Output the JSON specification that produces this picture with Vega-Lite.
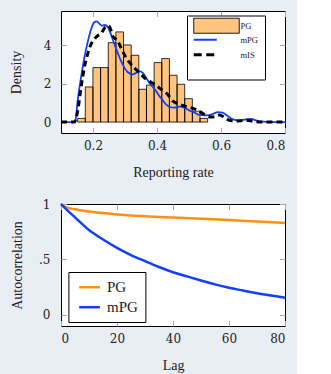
{
  "$schema": "https://vega.github.io/schema/vega-lite/v6.json",
  "background": "#e9edf4",
  "padding": {"left": 8, "top": 10, "right": 5, "bottom": 0},
  "spacing": 16,
  "resolve": {"scale": {"color": "independent"}, "legend": {"color": "independent"}},
  "config": {
    "view": {"stroke": "black", "strokeWidth": 1, "fill": "white"},
    "axis": {
      "domain": false, "grid": false, "tickColor": "#a8a8a8", "tickWidth": 1, "tickSize": -5.5,
      "labelFont": "DejaVu Serif", "labelFontSize": 12, "labelColor": "#222",
      "titleFont": "Liberation Serif", "titleFontSize": 14, "titleFontWeight": "normal", "titleColor": "#222"
    },
    "legend": {"labelFont": "Liberation Serif", "labelColor": "#222"}
  },
  "datasets": {
    "bars": [
      {"x0": 0.1520, "x1": 0.1759, "density": 0.19},
      {"x0": 0.1759, "x1": 0.1998, "density": 1.83},
      {"x0": 0.1998, "x1": 0.2237, "density": 2.84},
      {"x0": 0.2237, "x1": 0.2476, "density": 2.84},
      {"x0": 0.2476, "x1": 0.2715, "density": 4.14},
      {"x0": 0.2715, "x1": 0.2954, "density": 4.70},
      {"x0": 0.2954, "x1": 0.3193, "density": 4.02},
      {"x0": 0.3193, "x1": 0.3432, "density": 3.48},
      {"x0": 0.3432, "x1": 0.3671, "density": 1.71},
      {"x0": 0.3671, "x1": 0.3910, "density": 1.93},
      {"x0": 0.3910, "x1": 0.4149, "density": 3.10},
      {"x0": 0.4149, "x1": 0.4388, "density": 3.31},
      {"x0": 0.4388, "x1": 0.4627, "density": 2.44},
      {"x0": 0.4627, "x1": 0.4866, "density": 1.97},
      {"x0": 0.4866, "x1": 0.5105, "density": 1.22},
      {"x0": 0.5105, "x1": 0.5344, "density": 0.57},
      {"x0": 0.5344, "x1": 0.5583, "density": 0.19}
    ],
    "dens": [
      {"series": "mPG", "rate": 0.100, "density": 0},
      {"series": "mPG", "rate": 0.140, "density": 0},
      {"series": "mPG", "rate": 0.146, "density": 0.15},
      {"series": "mPG", "rate": 0.152, "density": 1.10},
      {"series": "mPG", "rate": 0.1625, "density": 2.31},
      {"series": "mPG", "rate": 0.173, "density": 3.36},
      {"series": "mPG", "rate": 0.183, "density": 4.14},
      {"series": "mPG", "rate": 0.194, "density": 4.84},
      {"series": "mPG", "rate": 0.204, "density": 5.20},
      {"series": "mPG", "rate": 0.212, "density": 5.25},
      {"series": "mPG", "rate": 0.220, "density": 5.12},
      {"series": "mPG", "rate": 0.228, "density": 5.03},
      {"series": "mPG", "rate": 0.236, "density": 5.06},
      {"series": "mPG", "rate": 0.246, "density": 4.96},
      {"series": "mPG", "rate": 0.256, "density": 4.58},
      {"series": "mPG", "rate": 0.267, "density": 4.06},
      {"series": "mPG", "rate": 0.277, "density": 3.62},
      {"series": "mPG", "rate": 0.2875, "density": 3.19},
      {"series": "mPG", "rate": 0.298, "density": 2.84},
      {"series": "mPG", "rate": 0.308, "density": 2.61},
      {"series": "mPG", "rate": 0.324, "density": 2.49},
      {"series": "mPG", "rate": 0.340, "density": 2.60},
      {"series": "mPG", "rate": 0.348, "density": 2.64},
      {"series": "mPG", "rate": 0.355, "density": 2.57},
      {"series": "mPG", "rate": 0.366, "density": 2.31},
      {"series": "mPG", "rate": 0.376, "density": 2.05},
      {"series": "mPG", "rate": 0.387, "density": 1.83},
      {"series": "mPG", "rate": 0.397, "density": 1.62},
      {"series": "mPG", "rate": 0.407, "density": 1.36},
      {"series": "mPG", "rate": 0.418, "density": 1.13},
      {"series": "mPG", "rate": 0.428, "density": 0.92},
      {"series": "mPG", "rate": 0.438, "density": 0.80},
      {"series": "mPG", "rate": 0.454, "density": 0.75},
      {"series": "mPG", "rate": 0.470, "density": 0.80},
      {"series": "mPG", "rate": 0.485, "density": 0.75},
      {"series": "mPG", "rate": 0.501, "density": 0.61},
      {"series": "mPG", "rate": 0.517, "density": 0.49},
      {"series": "mPG", "rate": 0.532, "density": 0.37},
      {"series": "mPG", "rate": 0.553, "density": 0.35},
      {"series": "mPG", "rate": 0.574, "density": 0.42},
      {"series": "mPG", "rate": 0.590, "density": 0.52},
      {"series": "mPG", "rate": 0.605, "density": 0.49},
      {"series": "mPG", "rate": 0.621, "density": 0.31},
      {"series": "mPG", "rate": 0.637, "density": 0.14},
      {"series": "mPG", "rate": 0.657, "density": 0.09},
      {"series": "mPG", "rate": 0.678, "density": 0.14},
      {"series": "mPG", "rate": 0.694, "density": 0.17},
      {"series": "mPG", "rate": 0.709, "density": 0.09},
      {"series": "mPG", "rate": 0.730, "density": 0.02},
      {"series": "mPG", "rate": 0.760, "density": 0},
      {"series": "mPG", "rate": 0.800, "density": 0},
      {"series": "mIS", "rate": 0.100, "density": 0},
      {"series": "mIS", "rate": 0.142, "density": 0},
      {"series": "mIS", "rate": 0.152, "density": 0.57},
      {"series": "mIS", "rate": 0.1625, "density": 1.79},
      {"series": "mIS", "rate": 0.173, "density": 2.84},
      {"series": "mIS", "rate": 0.183, "density": 3.53},
      {"series": "mIS", "rate": 0.194, "density": 4.06},
      {"series": "mIS", "rate": 0.204, "density": 4.32},
      {"series": "mIS", "rate": 0.214, "density": 4.49},
      {"series": "mIS", "rate": 0.225, "density": 4.61},
      {"series": "mIS", "rate": 0.240, "density": 4.98},
      {"series": "mIS", "rate": 0.248, "density": 5.02},
      {"series": "mIS", "rate": 0.255, "density": 4.85},
      {"series": "mIS", "rate": 0.261, "density": 4.49},
      {"series": "mIS", "rate": 0.277, "density": 4.23},
      {"series": "mIS", "rate": 0.2875, "density": 3.88},
      {"series": "mIS", "rate": 0.303, "density": 3.36},
      {"series": "mIS", "rate": 0.319, "density": 3.01},
      {"series": "mIS", "rate": 0.334, "density": 2.75},
      {"series": "mIS", "rate": 0.345, "density": 2.57},
      {"series": "mIS", "rate": 0.366, "density": 2.23},
      {"series": "mIS", "rate": 0.392, "density": 1.97},
      {"series": "mIS", "rate": 0.4125, "density": 1.71},
      {"series": "mIS", "rate": 0.433, "density": 1.45},
      {"series": "mIS", "rate": 0.449, "density": 1.10},
      {"series": "mIS", "rate": 0.465, "density": 0.96},
      {"series": "mIS", "rate": 0.485, "density": 0.84},
      {"series": "mIS", "rate": 0.506, "density": 0.75},
      {"series": "mIS", "rate": 0.527, "density": 0.61},
      {"series": "mIS", "rate": 0.548, "density": 0.40},
      {"series": "mIS", "rate": 0.569, "density": 0.26},
      {"series": "mIS", "rate": 0.580, "density": 0.28},
      {"series": "mIS", "rate": 0.595, "density": 0.37},
      {"series": "mIS", "rate": 0.610, "density": 0.26},
      {"series": "mIS", "rate": 0.626, "density": 0.09},
      {"series": "mIS", "rate": 0.647, "density": 0.05},
      {"series": "mIS", "rate": 0.678, "density": 0.09},
      {"series": "mIS", "rate": 0.709, "density": 0.02},
      {"series": "mIS", "rate": 0.740, "density": 0},
      {"series": "mIS", "rate": 0.800, "density": 0}
    ],
    "acf": [
      {"series": "PG", "lag": 0, "rho": 1.0},
      {"series": "PG", "lag": 1, "rho": 0.982},
      {"series": "PG", "lag": 2, "rho": 0.970},
      {"series": "PG", "lag": 3, "rho": 0.962},
      {"series": "PG", "lag": 5, "rho": 0.952},
      {"series": "PG", "lag": 7, "rho": 0.944},
      {"series": "PG", "lag": 10, "rho": 0.932},
      {"series": "PG", "lag": 15, "rho": 0.918},
      {"series": "PG", "lag": 20, "rho": 0.906},
      {"series": "PG", "lag": 30, "rho": 0.890},
      {"series": "PG", "lag": 40, "rho": 0.878},
      {"series": "PG", "lag": 50, "rho": 0.866},
      {"series": "PG", "lag": 60, "rho": 0.855},
      {"series": "PG", "lag": 70, "rho": 0.842},
      {"series": "PG", "lag": 80, "rho": 0.828},
      {"series": "mPG", "lag": 0, "rho": 1.0},
      {"series": "mPG", "lag": 2, "rho": 0.950},
      {"series": "mPG", "lag": 5, "rho": 0.880},
      {"series": "mPG", "lag": 10, "rho": 0.765},
      {"series": "mPG", "lag": 15, "rho": 0.680},
      {"series": "mPG", "lag": 20, "rho": 0.605},
      {"series": "mPG", "lag": 25, "rho": 0.540},
      {"series": "mPG", "lag": 30, "rho": 0.485},
      {"series": "mPG", "lag": 35, "rho": 0.432},
      {"series": "mPG", "lag": 40, "rho": 0.385},
      {"series": "mPG", "lag": 45, "rho": 0.347},
      {"series": "mPG", "lag": 50, "rho": 0.310},
      {"series": "mPG", "lag": 55, "rho": 0.275},
      {"series": "mPG", "lag": 60, "rho": 0.245},
      {"series": "mPG", "lag": 65, "rho": 0.220},
      {"series": "mPG", "lag": 70, "rho": 0.195},
      {"series": "mPG", "lag": 75, "rho": 0.175},
      {"series": "mPG", "lag": 80, "rho": 0.155}
    ]
  },
  "vconcat": [
    {
      "width": 224,
      "height": 122,
      "layer": [
        {
          "data": {"name": "bars"},
          "mark": {"type": "rect"},
          "encoding": {
            "x": {"field": "x0", "type": "quantitative",
                  "scale": {"domain": [0.1, 0.8], "nice": false, "zero": false},
                  "axis": {"orient": "bottom", "values": [0.2, 0.4, 0.6, 0.8], "format": ".1f", "labelPadding": 13.2, "title": "Reporting rate", "titlePadding": 14}},
            "x2": {"field": "x1"},
            "y": {"field": "density", "type": "quantitative",
                  "scale": {"domain": [-0.57, 5.79], "nice": false, "zero": false},
                  "axis": {"orient": "left", "values": [0, 2, 4], "labelPadding": 15.5, "title": "Density", "titlePadding": 20}},
            "y2": {"datum": 0},
            "color": {"datum": "PG", "type": "nominal",
                      "scale": {"domain": ["PG", "mPG", "mIS"], "range": ["#ffc47f", "#1040ff", "#000000"]},
                      "legend": {
                        "orient": "none", "legendX": 126, "legendY": 4.5, "title": null,
                        "padding": 6, "rowPadding": -9.2, "symbolSize": 225, "labelOffset": 39,
                        "labelFontSize": 8.5, "strokeColor": "black", "fillColor": "white",
                        "symbolType": {"expr": "datum.value === 'PG' ? 'M-1,-1.67M-1,0M7.9,0M-0.47,-1H5.6V1H-0.47Z' : (datum.value === 'mPG' ? 'M-1,-0.893M-1,0.893M-0.47,0H2.6' : 'M-1,-0.733M-1,1.7M-0.47,0H2.4')"},
                        "symbolStrokeColor": {"expr": "datum.value === 'mPG' ? '#1040ff' : '#000000'"},
                        "symbolStrokeWidth": {"expr": "datum.value === 'PG' ? 1 : (datum.value === 'mPG' ? 1.8 : 3)"},
                        "symbolDash": {"expr": "datum.value === 'mIS' ? [8, 4.5] : [1, 0]"},
                        "symbolOpacity": 1
                      }}
          }
        },
        {
          "data": {"name": "bars"},
          "mark": {"type": "rect", "fill": null, "fillOpacity": 0, "stroke": "black", "strokeWidth": 0.8},
          "encoding": {
            "x": {"field": "x0", "type": "quantitative", "axis": null},
            "x2": {"field": "x1"},
            "y": {"field": "density", "type": "quantitative", "axis": null},
            "y2": {"datum": 0}
          }
        },
        {
          "data": {"name": "dens"},
          "transform": [{"filter": "datum.series === 'mPG'"}],
          "mark": {"type": "line", "interpolate": "monotone", "strokeWidth": 1.8, "color": "#1040ff"},
          "encoding": {
            "x": {"field": "rate", "type": "quantitative",
                  "axis": {"orient": "top", "values": [0.2, 0.4, 0.6, 0.8], "labels": false, "title": null}},
            "y": {"field": "density", "type": "quantitative",
                  "axis": {"orient": "right", "values": [0, 2, 4], "labels": false, "title": null}}
          }
        },
        {
          "data": {"name": "dens"},
          "transform": [{"filter": "datum.series === 'mIS'"}],
          "mark": {"type": "line", "interpolate": "monotone", "strokeWidth": 3, "strokeDash": [6, 4], "color": "#000000"},
          "encoding": {
            "x": {"field": "rate", "type": "quantitative", "axis": null},
            "y": {"field": "density", "type": "quantitative", "axis": null}
          }
        }
      ]
    },
    {
      "width": 224,
      "height": 122,
      "layer": [
        {
          "data": {"name": "acf"},
          "transform": [{"filter": "datum.series === 'PG'"}],
          "mark": {"type": "line", "interpolate": "monotone", "strokeWidth": 2.5},
          "encoding": {
            "x": {"field": "lag", "type": "quantitative",
                  "scale": {"domain": [0, 80], "nice": false, "zero": false},
                  "axis": {"orient": "bottom", "values": [0, 20, 40, 60, 80], "labelPadding": 13.2, "title": "Lag", "titlePadding": 14}},
            "y": {"field": "rho", "type": "quantitative",
                  "scale": {"domain": [-0.1, 1.0], "nice": false, "zero": false},
                  "axis": {"orient": "left", "values": [0, 0.5, 1], "labelExpr": "datum.value === 0.5 ? '.5' : format(datum.value, 'd')", "labelPadding": 16.5, "title": "Autocorrelation", "titlePadding": 14.5}},
            "color": {"field": "series", "type": "nominal",
                      "scale": {"domain": ["PG", "mPG"], "range": ["#ff9010", "#1040ff"]},
                      "legend": {
                        "orient": "none", "legendX": 7.4, "legendY": 68, "title": null,
                        "padding": 6.7, "rowPadding": 3, "symbolSize": 196, "labelOffset": 14.9,
                        "labelFontSize": 15, "strokeColor": "black", "fillColor": "white",
                        "symbolType": "M-1,0M-0.63,0H2.33", "symbolStrokeWidth": 2.5
                      }}
          }
        },
        {
          "data": {"name": "acf"},
          "transform": [{"filter": "datum.series === 'mPG'"}],
          "mark": {"type": "line", "interpolate": "monotone", "strokeWidth": 2.5},
          "encoding": {
            "x": {"field": "lag", "type": "quantitative",
                  "axis": {"orient": "top", "values": [0, 20, 40, 60, 80], "labels": false, "title": null}},
            "y": {"field": "rho", "type": "quantitative",
                  "axis": {"orient": "right", "values": [0, 0.5, 1], "labels": false, "title": null}},
            "color": {"field": "series", "type": "nominal"}
          }
        }
      ]
    }
  ]
}
